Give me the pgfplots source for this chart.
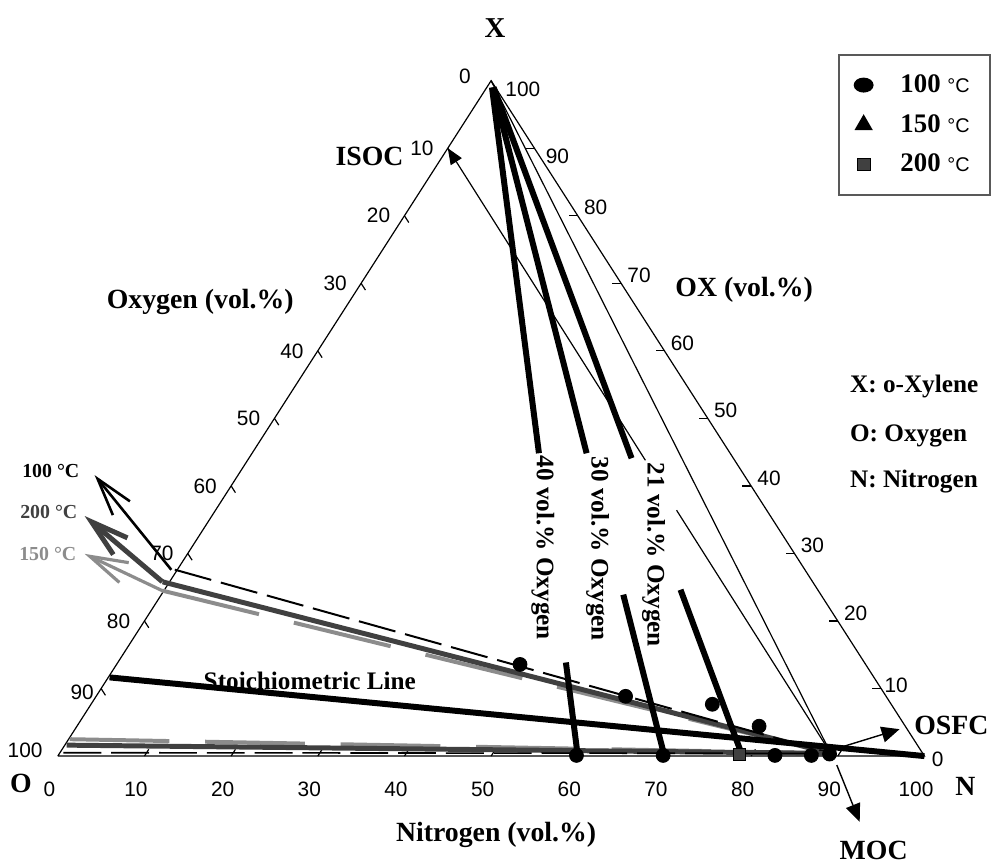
\documentclass[border=0pt]{standalone}
\usepackage{fontspec}
\setmainfont{Liberation Serif}
\newfontfamily\arial{Liberation Sans}
\usepackage{pgfplots}
\pgfplotsset{compat=1.18}
\usetikzlibrary{arrows.meta}
\definecolor{dg}{HTML}{404040}
\definecolor{lg}{HTML}{8C8C8C}
\newcommand\tickf{\arial\fontsize{10.5}{12}\selectfont}
\newcommand\labf{\bfseries\fontsize{14}{16}\selectfont}
\newcommand\inlab{\bfseries\fontsize{12.7}{15}\selectfont}
\newcommand\tlab{\bfseries\fontsize{10}{12}\selectfont}
\newcommand\degC{{\arial\mdseries\fontsize{10}{12}\selectfont °C}}
% ternary (N = nitrogen, X = o-xylene) -> picture coordinates
\pgfplotsset{table/tern/.style={x expr={58+8.7*(\thisrow{N}+0.5*\thisrow{X})}, y expr={106+6.78*\thisrow{X}}}}
\newcommand\tp[2]{({58+8.7*((#1)+0.5*(#2))},{106+6.78*(#2)})}
\begin{document}
\begin{tikzpicture}
\begin{axis}[
  width=497.5bp, height=432.5bp, scale only axis,
  xmin=0, xmax=995, ymin=0, ymax=865,
  hide axis, clip=false,
  legend image code/.code={\draw[#1] plot coordinates {(0bp,0bp)};},
  legend style={at={(axis cs:841,811)}, anchor=north west, draw=black!65, line width=1bp,
    inner xsep=8bp, inner ysep=8bp, row sep=5.5bp,
    font=\bfseries\fontsize{13.5}{16}\selectfont,
    /tikz/every odd column/.append style={column sep=12bp}},
  legend cell align=left,
]
\addlegendimage{black, mark=*, mark size=3.25bp, mark options={xscale=1.38, fill=black}}
\addlegendentry{100 \degC}
\addlegendimage{black, mark=triangle*, mark size=4.3bp}
\addlegendentry{150 \degC}
\addlegendimage{black, mark=square*, mark size=3.2bp, mark options={fill=dg, draw=black, line width=0.5bp}}
\addlegendentry{200 \degC}

% triangle frame
\addplot[black, line width=0.6bp] table[tern]{
N X
0 0
100 0
0 100
0 0
};
% ticks
\pgfplotsinvokeforeach{10,20,...,90}{
  \draw[line width=0.6bp] \tp{0}{100-#1} -- \tp{1}{99-#1};
  \draw[line width=0.6bp] \tp{#1}{0} -- \tp{#1}{1};
  \draw[line width=0.6bp] \tp{100-#1}{#1} -- \tp{99-#1}{#1};
}
% left tick labels (oxygen)
\pgfplotsinvokeforeach{10,20,...,80}{
  \node[anchor=east, inner sep=0pt, font=\tickf, xshift=-7bp] at \tp{0}{100-#1} {#1};
}
\node[anchor=east, inner sep=0pt, font=\tickf, xshift=-10bp, yshift=2bp] at \tp{0}{100} {0};
\node[anchor=east, inner sep=0pt, font=\tickf, xshift=-3.5bp, yshift=-2bp] at \tp{0}{10} {90};
\node[anchor=east, inner sep=0pt, font=\tickf, xshift=-7.5bp, yshift=3bp] at \tp{0}{0} {100};
% bottom tick labels (nitrogen)
\pgfplotsinvokeforeach{0,10,...,100}{
  \node[anchor=north, inner sep=0pt, font=\tickf, xshift=-4.25bp, yshift=-13bp] at \tp{#1}{0} {#1};
}
% right tick labels (o-xylene)
\pgfplotsinvokeforeach{20,30,...,80}{
  \node[anchor=west, inner sep=0pt, font=\tickf, xshift=3bp, yshift=4bp] at \tp{100-#1}{#1} {#1};
}
\node[anchor=west, inner sep=0pt, font=\tickf, xshift=5.5bp, yshift=-4bp] at \tp{10}{90} {90};
\node[anchor=west, inner sep=0pt, font=\tickf, xshift=7bp, yshift=-4.5bp] at \tp{0}{100} {100};
\node[anchor=west, inner sep=0pt, font=\tickf, xshift=1.5bp, yshift=1.5bp] at \tp{90}{10} {10};
\node[anchor=west, inner sep=0pt, font=\tickf, xshift=3.5bp, yshift=-1.5bp] at \tp{100}{0} {0};

% thin line from X vertex to the MOC point
\addplot[black, line width=0.6bp] table[tern]{
N X
0 100
89.0 0.4
};
% ISOC line
\addplot[black, line width=0.6bp, {Triangle[length=8bp,width=6.5bp]}-] table[tern]{
N X
0 90
45.9 43.8
};
\addplot[black, line width=0.6bp] table[tern]{
N X
53.2 36.4
89.0 0.4
};

% upper limits
\addplot[lg, line width=2bp, dash pattern=on 50bp off 18bp] table[tern]{
N X
-0.2 24.5
89.0 0.4
};
\addplot[dg, line width=2.5bp] table[tern]{
N X
-0.8 25.8
89.0 0.4
};
\addplot[black, line width=1bp, dash pattern=on 19bp off 5bp] table[tern]{
N X
-0.3 27.6
89.0 0.4
};
% lower limits
\addplot[lg, line width=2bp, dash pattern=on 50bp off 18bp] table[tern]{
N X
0.13 2.5
89.0 0.4
};
\addplot[dg, line width=2.5bp] table[tern]{
N X
0.22 1.62
89.0 0.4
};
\addplot[black, line width=0.8bp, dash pattern=on 19bp off 5bp] table[tern]{
N X
0.4 0.5
89.0 0.4
};

% constant oxygen lines (40, 30, 21 vol.% O2)
\addplot[black, line width=3bp] table[tern]{
N X
0.6 99
33.1 44.84
};
\addplot[black, line width=3bp] table[tern]{
N X
51.7 13.86
60 0
};
\addplot[black, line width=3bp] table[tern]{
N X
0.7 99
38.6 44.84
};
\addplot[black, line width=3bp] table[tern]{
N X
53.3 23.9
70 0
};
\addplot[black, line width=3bp] table[tern]{
N X
0.79 99
44.16 44.1
};
\addplot[black, line width=3bp] table[tern]{
N X
59.54 24.63
79 0
};
% stoichiometric line
\addplot[black, line width=3bp] table[tern]{
N X
0.15 11.65
100 0
};

% measured points
\addplot[only marks, mark=square*, mark size=3bp, mark options={fill=dg, draw=black}] table[tern]{
N X
78.6 0.2
};
\addplot[only marks, mark=*, mark size=3.5bp, black] table[tern]{
N X
46.55 13.57
61.09 8.85
71.69 7.67
78.71 4.42
59.8 0.1
69.8 0.1
82.7 0.1
86.9 0.1
88.9 0.3
};

% temperature arrows
\draw[black, line width=1.3bp, -{Straight Barb[length=19bp,width=11bp]}] (axis cs:172,293) -- (axis cs:95,388);
\draw[dg, line width=2.5bp, -{Straight Barb[length=19bp,width=11bp]}] (axis cs:163,281) -- (axis cs:85,347);
\draw[lg, line width=1.6bp, -{Straight Barb[length=19bp,width=11bp]}] (axis cs:163,272) -- (axis cs:85,309);
% OSFC and MOC arrows
\draw[black, line width=0.7bp, -{Triangle[length=9bp,width=8bp]}] (axis cs:838,113) -- (axis cs:903,133);
\draw[black, line width=0.7bp, -{Triangle[length=9bp,width=7.5bp]}] (axis cs:840,97) -- (axis cs:863,40);

% labels
\node[font=\bfseries\fontsize{14.5}{17}\selectfont] at (axis cs:497,837) {X};
\node[font=\labf] at (axis cs:371,708) {ISOC};
\node[font=\labf] at (axis cs:201,562) {Oxygen (vol.\%)};
\node[font=\labf] at (axis cs:747,574) {OX (vol.\%)};
\node[font=\labf] at (axis cs:498,27) {Nitrogen (vol.\%)};
\node[font=\labf] at (axis cs:21,79) {O};
\node[font=\labf] at (axis cs:969,76) {N};
\node[font=\labf] at (axis cs:955,137) {OSFC};
\node[font=\labf] at (axis cs:877,11) {MOC};
\node[font=\inlab, rotate=-90] at (axis cs:545,315) {40 vol.\% Oxygen};
\node[font=\inlab, rotate=-90] at (axis cs:600,314) {30 vol.\% Oxygen};
\node[font=\inlab, rotate=-90] at (axis cs:656,308) {21 vol.\% Oxygen};
\node[font=\inlab] at (axis cs:311,182) {Stoichiometric Line};
\node[font=\inlab, anchor=base west, inner sep=0pt] at (axis cs:853,471) {X: o-Xylene};
\node[font=\inlab, anchor=base west, inner sep=0pt] at (axis cs:853,422) {O: Oxygen};
\node[font=\inlab, anchor=base west, inner sep=0pt] at (axis cs:853,376) {N: Nitrogen};
\node[font=\tlab, black] at (axis cs:51,392) {100 °C};
\node[font=\tlab, dg] at (axis cs:49,351) {200 °C};
\node[font=\tlab, lg] at (axis cs:48,309) {150 °C};
\path (axis cs:0,0) rectangle (axis cs:995,865);
\end{axis}
\end{tikzpicture}
\end{document}
